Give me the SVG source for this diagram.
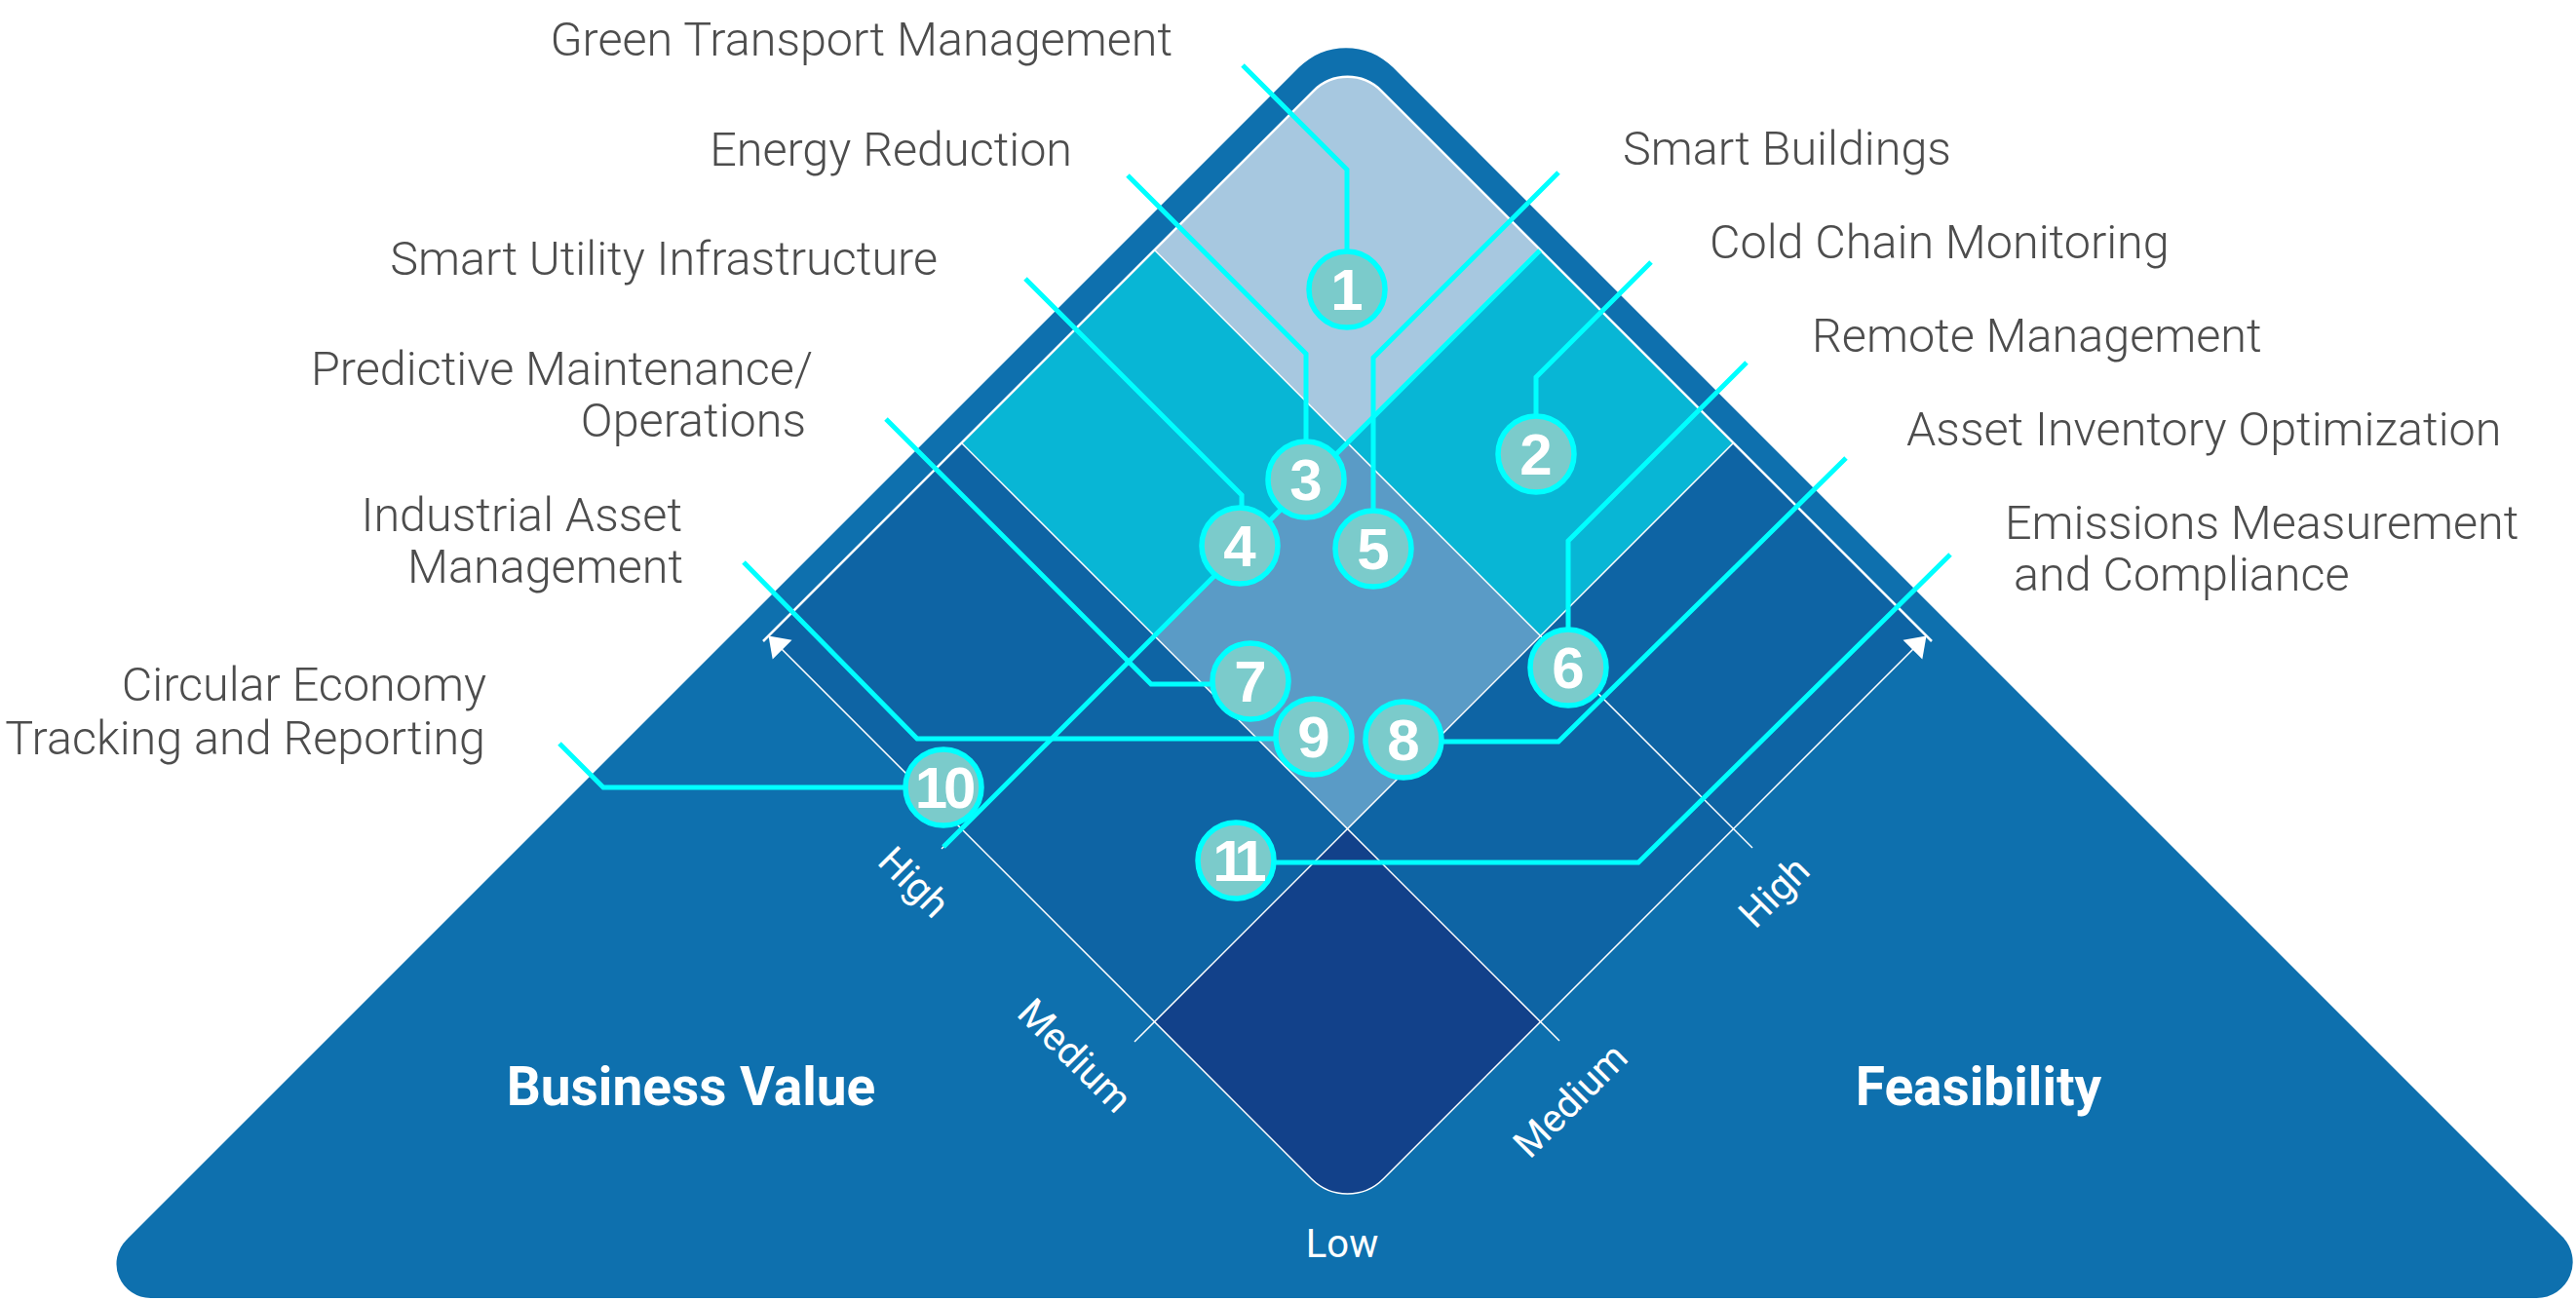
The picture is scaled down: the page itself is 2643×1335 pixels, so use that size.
<svg xmlns="http://www.w3.org/2000/svg" width="2643" height="1335" viewBox="0 0 2643 1335">
<style>
.lbl{font-family:Roboto,"Liberation Sans",sans-serif;font-weight:300;font-size:48.5px;fill:#4D4D4D}
.ax{font-family:Roboto,"Liberation Sans",sans-serif;font-weight:400;font-size:40px;fill:#FFFFFF;text-anchor:middle}
.big{font-family:Roboto,"Liberation Sans",sans-serif;font-weight:700;font-size:55px;fill:#FFFFFF;text-anchor:middle}
.grid{stroke:#FFFFFF;stroke-width:1.5;fill:none}
.wl{stroke:#FFFFFF;stroke-width:2.5;fill:none}
.con{stroke:#00FFFF;stroke-width:5;fill:none;stroke-linejoin:miter}
.nc{fill:#7BCBCB;stroke:#00FFFF;stroke-width:5.5}
.nt{font-family:"Liberation Sans",Arial,sans-serif;font-weight:700;font-size:60px;fill:#FFFFFF;text-anchor:middle}
.end{text-anchor:end}
</style>
<rect width="2643" height="1335" fill="#FFFFFF"/>
<g id="pyramid">
<path d="M1332.9,69.1 A68,68 0 0 1 1429.1,69.1 L2628.8,1268.8 A37,37 0 0 1 2602.7,1332 L154.5,1332 A35,35 0 0 1 129.8,1272.2 Z" fill="#0E70AE"/>
</g>
<g id="cells">
<path d="M1347.9,93.1 A49,49 0 0 1 1417.1,93.1 L1580.5,256.5 L1382.5,454.5 L1184.5,256.5 Z" fill="#A7C8E0"/>
<polygon points="1184.5,256.5 1382.5,454.5 1184.5,652.5 986.5,454.5" fill="#08B6D5"/>
<polygon points="1580.5,256.5 1778.5,454.5 1580.5,652.5 1382.5,454.5" fill="#08B6D5"/>
<polygon points="1382.5,454.5 1580.5,652.5 1382.5,850.5 1184.5,652.5" fill="#5A9BC6"/>
<polygon points="986.5,454.5 1184.5,652.5 986.5,850.5 788.5,652.5" fill="#0E64A4"/>
<polygon points="1778.5,454.5 1976.5,652.5 1778.5,850.5 1580.5,652.5" fill="#0E64A4"/>
<polygon points="1184.5,652.5 1382.5,850.5 1184.5,1048.5 986.5,850.5" fill="#0E64A4"/>
<polygon points="1580.5,652.5 1778.5,850.5 1580.5,1048.5 1382.5,850.5" fill="#0E64A4"/>
<path d="M1382.5,850.5 L1580.5,1048.5 L1419.3,1209.7 A52,52 0 0 1 1345.7,1209.7 L1184.5,1048.5 Z" fill="#12418A"/>
</g>
<g id="grid">
<path class="wl" d="M783,658 L1347.9,93.1 A49,49 0 0 1 1417.1,93.1 L1982,658"/>
<line class="grid" x1="1184.5" y1="256.5" x2="1798" y2="870"/>
<line class="grid" x1="986.5" y1="454.5" x2="1600" y2="1068"/>
<line class="grid" x1="1580.5" y1="256.5" x2="966" y2="871"/>
<line class="grid" x1="1778.5" y1="454.5" x2="1164" y2="1069"/>
<path class="grid" d="M800,664 L1345.7,1209.7 A52,52 0 0 0 1419.3,1209.7 L1965,664"/>
<polygon points="788.5,652.5 812.5,656.7 792.7,676.5" fill="#FFFFFF"/>
<polygon points="1976.5,652.5 1952.5,656.7 1972.3,676.5" fill="#FFFFFF"/>
</g>
<g id="axis-labels">
<text class="big" x="709" y="1134">Business Value</text>
<text class="big" x="2030" y="1134">Feasibility</text>
<text class="ax" x="1377" y="1290">Low</text>
<text class="ax" transform="translate(938,905) rotate(45)" x="0" y="14">High</text>
<text class="ax" transform="translate(1103,1083) rotate(45)" x="0" y="14">Medium</text>
<text class="ax" transform="translate(1820,915) rotate(-45)" x="0" y="14">High</text>
<text class="ax" transform="translate(1611,1129) rotate(-45)" x="0" y="14">Medium</text>
</g>
<g id="connectors">
<path class="con" d="M1275,67 L1382,174 L1382,262"/>
<path class="con" d="M1157,180 L1340,363 L1340,455"/>
<path class="con" d="M1599,177 L1409,367 L1409,528"/>
<path class="con" d="M1694,269 L1576,387 L1576,430"/>
<path class="con" d="M1052,286 L1274,508 L1274,525"/>
<path class="con" d="M909,430 L1181,702 L1246,702"/>
<path class="con" d="M763,577 L941,758 L1310,758"/>
<path class="con" d="M574,763 L619,808 L930,808"/>
<path class="con" d="M1792,372 L1609,555 L1609,650"/>
<path class="con" d="M1894,470 L1599,761 L1470,761"/>
<path class="con" d="M2001,569 L1681,885 L1300,885"/>
<path class="con" d="M1580,257 L968,869"/>
</g>
<g id="node-1"><circle class="nc" cx="1382" cy="297" r="39"/><text class="nt" x="1382" y="318">1</text></g>
<g id="node-2"><circle class="nc" cx="1576" cy="466" r="39"/><text class="nt" x="1576" y="487">2</text></g>
<g id="node-3"><circle class="nc" cx="1340" cy="492" r="39"/><text class="nt" x="1340" y="513">3</text></g>
<g id="node-4"><circle class="nc" cx="1272" cy="560" r="39"/><text class="nt" x="1272" y="581">4</text></g>
<g id="node-5"><circle class="nc" cx="1409" cy="563" r="39"/><text class="nt" x="1409" y="584">5</text></g>
<g id="node-6"><circle class="nc" cx="1609" cy="685" r="39"/><text class="nt" x="1609" y="706">6</text></g>
<g id="node-7"><circle class="nc" cx="1283" cy="699" r="39"/><text class="nt" x="1283" y="720">7</text></g>
<g id="node-9"><circle class="nc" cx="1348" cy="756" r="39"/><text class="nt" x="1348" y="777">9</text></g>
<g id="node-8"><circle class="nc" cx="1440" cy="759" r="39"/><text class="nt" x="1440" y="780">8</text></g>
<g id="node-10"><circle class="nc" cx="968" cy="808" r="39"/><text class="nt" x="968" y="829" letter-spacing="-4">10</text></g>
<g id="node-11"><circle class="nc" cx="1268" cy="883" r="39"/><text class="nt" x="1268" y="904" letter-spacing="-8">11</text></g>
<g id="labels">
<text class="lbl end" x="1203" y="57">Green Transport Management</text>
<text class="lbl end" x="1100" y="170">Energy Reduction</text>
<text class="lbl end" x="962" y="282">Smart Utility Infrastructure</text>
<text class="lbl end" x="834" y="395">Predictive Maintenance/</text>
<text class="lbl end" x="827" y="448">Operations</text>
<text class="lbl end" x="700" y="545">Industrial Asset</text>
<text class="lbl end" x="701" y="598">Management</text>
<text class="lbl end" x="499" y="719">Circular Economy</text>
<text class="lbl end" x="498" y="774">Tracking and Reporting</text>
<text class="lbl" x="1665" y="169">Smart Buildings</text>
<text class="lbl" x="1754" y="265">Cold Chain Monitoring</text>
<text class="lbl" x="1859" y="361">Remote Management</text>
<text class="lbl" x="1956" y="457">Asset Inventory Optimization</text>
<text class="lbl" x="2057" y="553">Emissions Measurement</text>
<text class="lbl" x="2066" y="606">and Compliance</text>
</g>
</svg>
